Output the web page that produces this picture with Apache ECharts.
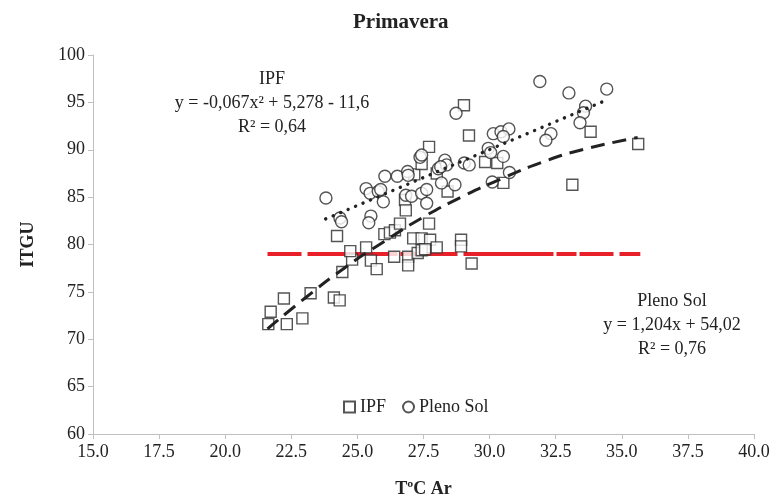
<!DOCTYPE html>
<html>
<head>
<meta charset="utf-8">
<script src="https://cdn.jsdelivr.net/npm/echarts@6/dist/echarts.min.js"></script>
<style>
  html, body { margin: 0; padding: 0; background: #fff; }
  #chart { width: 774px; height: 497px; }
</style>
</head>
<body>
<div id="chart"></div>
<script>
// IPF points (squares): [T ar, ITGU]
var ipf = [
  [21.63, 71.6], [22.33, 71.6], [21.72, 72.9], [22.22, 74.3], [22.92, 72.2],
  [23.23, 74.85], [24.11, 74.4], [24.33, 74.1], [24.43, 77.1], [24.8, 78.4],
  [24.73, 79.3], [24.23, 80.9], [25.33, 79.7], [25.51, 78.3], [25.73, 77.4],
  [26.02, 81.1], [26.23, 81.25], [26.42, 81.5], [26.61, 82.2], [26.39, 78.7],
  [26.92, 78.7], [26.92, 77.8], [26.8, 84.7], [26.83, 83.6], [27.15, 87.4],
  [27.43, 88.5], [27.71, 90.3], [28.0, 87.5], [28.41, 85.6], [27.71, 82.2],
  [27.11, 80.65], [27.43, 80.65], [27.75, 80.5], [27.28, 79.1], [27.43, 79.4],
  [27.56, 79.5], [28.0, 79.7], [28.92, 80.5], [28.92, 79.8], [29.32, 78.0],
  [29.03, 94.7], [29.22, 91.5], [29.83, 88.7], [30.29, 88.6], [30.52, 86.5],
  [33.13, 86.3], [33.82, 91.9], [35.62, 90.6]
];

// Pleno Sol points (circles)
var plenoSol = [
  [23.81, 84.9], [24.34, 82.8], [24.4, 82.4], [25.51, 83.0], [25.43, 82.3],
  [25.33, 85.9], [25.48, 85.4], [25.79, 85.6], [25.98, 84.5], [25.88, 85.8],
  [26.04, 87.2], [26.51, 87.2], [26.9, 87.7], [26.92, 87.3], [26.83, 85.2],
  [27.05, 85.1], [27.43, 85.4], [27.62, 85.8], [27.62, 84.35], [27.37, 89.2],
  [27.43, 89.45], [28.06, 88.0], [28.31, 88.9], [28.37, 88.4], [28.15, 88.2],
  [28.18, 86.5], [28.69, 86.3], [29.04, 88.6], [29.23, 88.4], [29.95, 90.15],
  [30.04, 89.7], [30.52, 89.3], [30.1, 86.6], [28.73, 93.85], [30.14, 91.7],
  [30.43, 91.9], [30.73, 92.2], [30.52, 91.4], [30.75, 87.6], [31.9, 97.2],
  [33.0, 96.0], [34.43, 96.4], [33.63, 94.6], [33.55, 93.9], [33.42, 92.85],
  [32.32, 91.7], [32.13, 91.0]
];

// trend lines as drawn
var ipfTrend = [
  [21.6, 71.1], [23.0, 74.3], [24.5, 77.5], [26.0, 80.3], [27.5, 82.9],
  [29.0, 85.1], [30.5, 87.0], [32.0, 88.7], [33.5, 90.0], [35.6, 91.3]
];
var solTrend = [[23.8, 82.7], [34.3, 95.1]];
var redLine = [[21.6, 79.0], [35.7, 79.0]];

var serif = 'Liberation Serif';
var chart = echarts.init(document.getElementById('chart'));

var markerStyle = { color: '#fff', borderColor: '#2a2a2a', borderWidth: 1.4 };

chart.setOption({
  animation: false,
  backgroundColor: '#fff',
  textStyle: { fontFamily: serif },
  title: {
    text: 'Primavera',
    left: 348,
    top: 7,
    textStyle: { fontFamily: serif, fontSize: 21, fontWeight: 'bold', color: '#222' }
  },
  legend: {
    data: ['IPF', 'Pleno Sol'],
    left: 338,
    top: 393,
    itemWidth: 11,
    itemHeight: 11,
    itemGap: 16,
    textStyle: { fontFamily: serif, fontSize: 18, color: '#222' }
  },
  grid: { left: 93, right: 20, top: 55, bottom: 63, containLabel: false, outerBoundsMode: 'none' },
  xAxis: {
    type: 'value',
    min: 15, max: 40, interval: 2.5,
    name: 'TºC Ar',
    nameLocation: 'middle',
    nameGap: 46,
    nameTextStyle: { fontFamily: serif, fontSize: 18, fontWeight: 'bold', color: '#222' },
    axisLine: { show: true, lineStyle: { color: '#c0c0c0' } },
    axisTick: { show: true, length: 5, lineStyle: { color: '#c0c0c0' } },
    splitLine: { show: false },
    axisLabel: {
      fontFamily: serif, fontSize: 18, color: '#222', margin: 9,
      formatter: function (v) { return v.toFixed(1); }
    }
  },
  yAxis: {
    type: 'value',
    min: 60, max: 100, interval: 5,
    name: 'ITGU',
    nameLocation: 'middle',
    nameGap: 56,
    nameTextStyle: { fontFamily: serif, fontSize: 18, fontWeight: 'bold', color: '#222' },
    axisLine: { show: true, lineStyle: { color: '#c0c0c0' } },
    axisTick: { show: true, length: 5, lineStyle: { color: '#c0c0c0' } },
    splitLine: { show: false },
    axisLabel: { fontFamily: serif, fontSize: 18, color: '#222', margin: 8 }
  },
  series: [
    {
      name: 'Red line',
      type: 'line',
      data: redLine,
      symbol: 'none',
      lineStyle: { color: '#e8202a', width: 4, type: [34, 6, 90, 3, 20, 3] },
      z: 1
    },
    {
      name: 'IPF',
      type: 'scatter',
      data: ipf,
      symbol: 'rect',
      symbolSize: 11,
      itemStyle: markerStyle,
      z: 3
    },
    {
      name: 'Pleno Sol',
      type: 'scatter',
      data: plenoSol,
      symbol: 'circle',
      symbolSize: 12,
      itemStyle: markerStyle,
      z: 3
    },
    {
      name: 'IPF trend',
      type: 'line',
      data: ipfTrend,
      smooth: true,
      symbol: 'none',
      lineStyle: { color: '#222', width: 3, type: [14, 8] },
      z: 4
    },
    {
      name: 'Sol trend',
      type: 'line',
      data: solTrend,
      symbol: 'none',
      lineStyle: { color: '#222', width: 3.4, type: [0.1, 8], cap: 'round' },
      z: 4
    }
  ],
  graphic: [
    {
      type: 'text',
      x: 272, y: 67,
      style: {
        text: 'IPF\ny = -0,067x² + 5,278 - 11,6\nR² = 0,64',
        align: 'center',
        fontFamily: serif, fontSize: 18, lineHeight: 24, fill: '#222'
      }
    },
    {
      type: 'text',
      x: 672, y: 289,
      style: {
        text: 'Pleno Sol\ny = 1,204x + 54,02\nR² = 0,76',
        align: 'center',
        fontFamily: serif, fontSize: 18, lineHeight: 24, fill: '#222'
      }
    }
  ]
});
</script>
</body>
</html>
